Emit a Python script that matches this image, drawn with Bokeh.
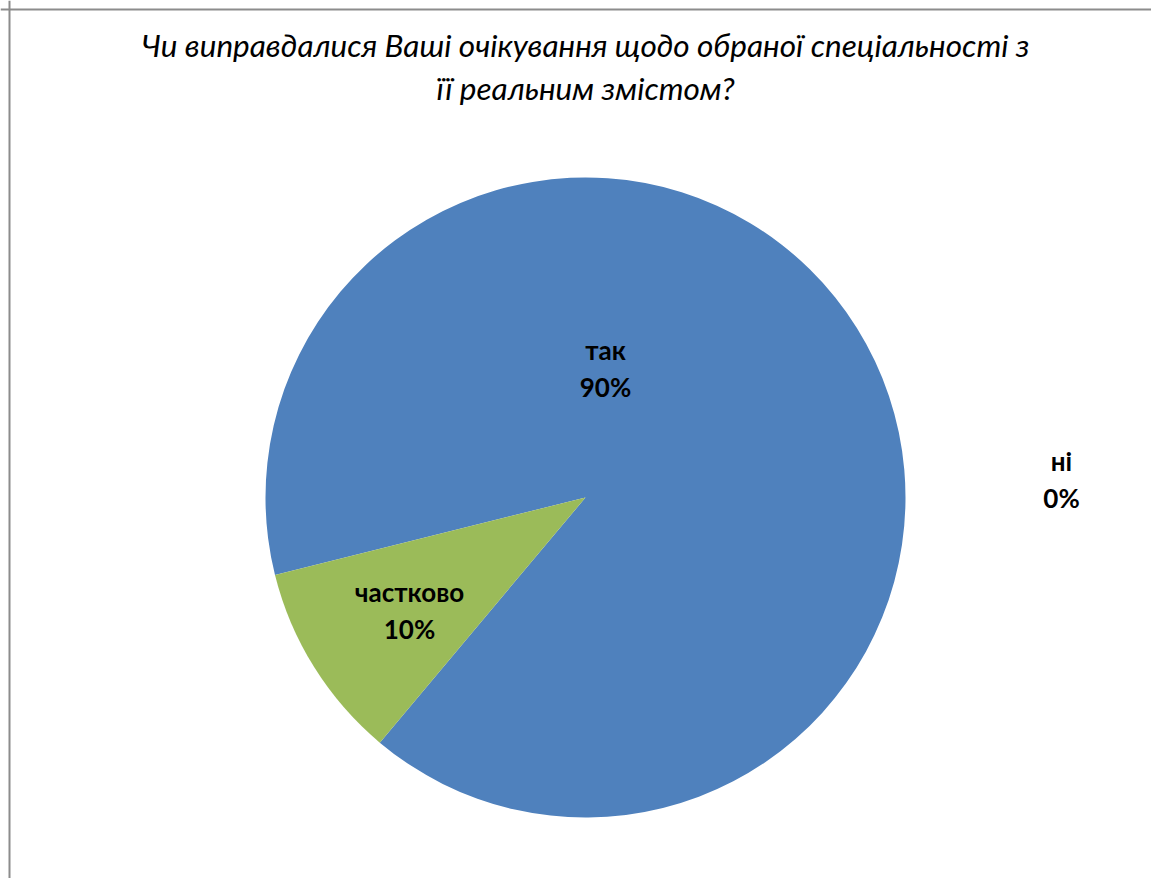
import math
from bokeh.plotting import figure
from bokeh.models import Range1d, Span, ColumnDataSource
from bokeh.core.properties import value
from bokeh.embed import file_html
from bokeh.resources import INLINE

# ---- data ----
categories = ["так", "частково", "ні"]
values = [90, 10, 0]
colors = ["#4F81BD", "#9BBB59", "#C0504D"]
title_lines = ["Чи виправдалися Ваші очікування щодо обраної спеціальності з",
               "її реальним змістом?"]

# ---- layout (page pixels, y measured from top) ----
W, H = 1151, 878
cx, cy = 585, H - 497          # pie centre
radius = 320
first_slice_angle = 256        # degrees clockwise from 12 o'clock
label_offsets = [(20, 128), (-176, -114), (476, 17)]   # (dx, dy-up) from centre

total = sum(values)
starts, ends, cats, cols = [], [], [], []
acc = first_slice_angle
for c, v, col in zip(categories, values, colors):
    a0 = acc
    a1 = acc + 360.0 * v / total
    acc = a1
    if v <= 0:
        continue
    cats.append(c)
    cols.append(col)
    starts.append(math.radians(90 - a0))
    ends.append(math.radians(90 - a1))

src = ColumnDataSource(dict(cat=cats, color=cols, start=starts, end=ends))

p = figure(width=W, height=H, x_range=Range1d(0, W), y_range=Range1d(0, H),
           x_axis_type=None, y_axis_type=None, toolbar_location=None,
           output_backend="svg", min_border=0, outline_line_color=None,
           background_fill_color="white", border_fill_color="white")
p.grid.visible = False

p.wedge(x=cx, y=cy, radius=radius, start_angle="start", end_angle="end",
        direction="clock", fill_color="color", line_color=None, source=src)

# data labels
lx = [cx + dx for dx, dy in label_offsets]
ly = [cy + dy for dx, dy in label_offsets]
pct = [f"{round(100 * v / total)}%" for v in values]
p.text(x=lx, y=[y + 20 for y in ly], text=categories, text_align="center",
       text_baseline="middle", text_font=value("Lato"), text_font_style="bold",
       text_font_size="26px", text_color="black")
p.text(x=lx, y=[y - 17 for y in ly], text=pct, text_align="center",
       text_baseline="middle", text_font=value("Lato"), text_font_style="bold",
       text_font_size="26px", text_color="black")

# title
p.text(x=[585, 585], y=[H - 44, H - 87], text=title_lines, text_align="center",
       text_baseline="middle", text_font=value("Lato"), text_font_style="italic",
       text_font_size="31.5px", text_color="black")

# chart border (left & top visible)
p.add_layout(Span(location=9, dimension="height", line_color="#8c8c8c", line_width=2))
p.add_layout(Span(location=H - 9, dimension="width", line_color="#8c8c8c", line_width=2))

open("out.html", "w").write(file_html(p, INLINE))
